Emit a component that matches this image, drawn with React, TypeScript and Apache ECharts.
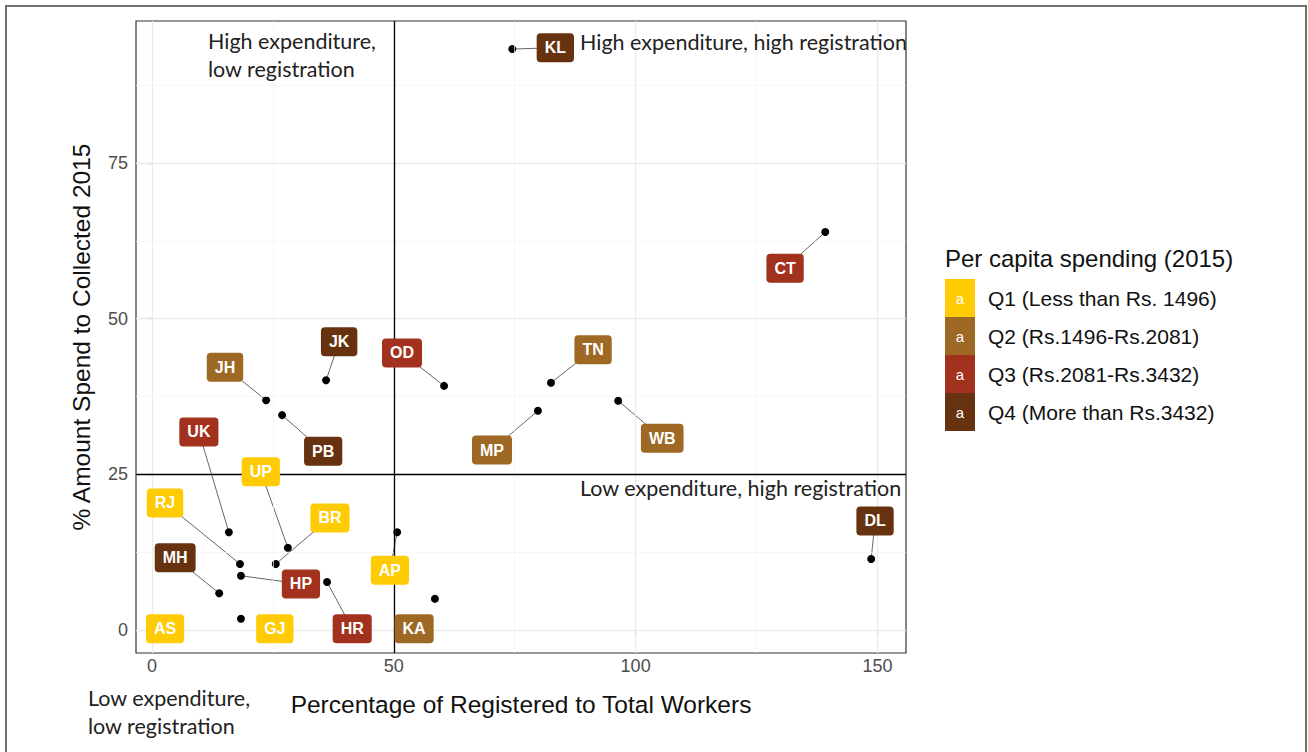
import React, { useEffect, useRef } from "react";
import * as echarts from "echarts";

// ---- data ----
const states = ["KL", "CT", "DL", "TN", "MP", "WB", "OD", "JK", "JH", "PB", "UK", "UP", "RJ", "BR", "MH", "HP", "HR", "AS", "GJ", "AP", "KA"];
const regPct = [74.5, 139.2, 148.7, 82.5, 79.8, 96.4, 60.4, 36.0, 23.6, 26.9, 15.9, 28.1, 18.2, 25.6, 13.9, 18.4, 36.2, 2.5, 18.4, 50.7, 58.5];
const spendPct = [93.3, 63.9, 11.4, 39.7, 35.2, 36.8, 39.2, 40.1, 36.9, 34.5, 15.7, 13.2, 10.6, 10.6, 5.9, 8.7, 7.7, 0.3, 1.8, 15.7, 5.0];
// repelled label positions (data units)
const labelX = [83.4, 130.9, 149.5, 91.2, 70.3, 105.5, 51.7, 38.7, 15.1, 35.4, 9.7, 22.5, 2.7, 36.8, 4.8, 30.8, 41.4, 2.7, 25.4, 49.2, 54.2];
const labelY = [93.5, 58.1, 17.5, 45.0, 28.9, 30.8, 44.5, 46.3, 42.2, 28.7, 31.8, 25.4, 20.4, 18.0, 11.6, 7.4, 0.2, 0.2, 0.2, 9.6, 0.2];
const quartile = [4, 3, 4, 2, 2, 2, 3, 4, 2, 4, 3, 1, 1, 1, 4, 3, 3, 1, 1, 1, 2];
const hasSegment = [true, true, true, true, true, true, true, true, true, true, true, true, true, true, true, true, true, false, false, true, false];

const quartileNames = ["Q1 (Less than Rs. 1496)", "Q2 (Rs.1496-Rs.2081)", "Q3 (Rs.2081-Rs.3432)", "Q4 (More than Rs.3432)"];
const quartileColors = ["#FFCB05", "#9E6825", "#A2311D", "#66320F"];
const legendTitle = "Per capita spending (2015)";

const xTicks = [0, 50, 100, 150];
const yTicks = [0, 25, 50, 75];
const xMinor = [25, 75, 125];
const yMinor = [12.5, 37.5, 62.5, 87.5];
const splitX = 50;
const splitY = 25;

const xTitle = "Percentage of Registered to Total Workers";
const yTitle = "% Amount Spend to Collected 2015";

const SANS = "'Liberation Sans', Arial, Helvetica, sans-serif";
const ANNOT = "Lato, 'Open Sans', sans-serif";

export default function App() {
  const ref = useRef<HTMLDivElement>(null);

  useEffect(() => {
    if (!ref.current) return;
    const chart = echarts.init(ref.current, null, { renderer: "svg" });

    const gridLines = [
      ...xTicks.map((v) => ({ xAxis: v, lineStyle: { color: "#EBEBEB", width: 1.3, type: "solid" } })),
      ...xMinor.map((v) => ({ xAxis: v, lineStyle: { color: "#F3F3F3", width: 0.7, type: "solid" } })),
      ...yTicks.map((v) => ({ yAxis: v, lineStyle: { color: "#EBEBEB", width: 1.3, type: "solid" } })),
      ...yMinor.map((v) => ({ yAxis: v, lineStyle: { color: "#F3F3F3", width: 0.7, type: "solid" } })),
    ];

    const segments = states
      .map((s, i) => ({ i, s }))
      .filter(({ i }) => hasSegment[i])
      .map(({ i }) => ({ coords: [[labelX[i], labelY[i]], [regPct[i], spendPct[i]]] }));

    const labelSeries = quartileColors.map((col, q) => ({
      type: "scatter",
      z: 5,
      symbol: "rect",
      symbolSize: 1,
      itemStyle: { color: "rgba(0,0,0,0)", opacity: 1 },
      silent: true,
      data: states
        .map((s, i) => ({ i, s }))
        .filter(({ i }) => quartile[i] === q + 1)
        .map(({ i, s }) => ({ name: s, value: [labelX[i], labelY[i]] })),
      label: {
        show: true,
        position: "inside",
        formatter: "{b}",
        color: "#ffffff",
        opacity: 1,
        fontWeight: "bold",
        fontSize: 16,
        fontFamily: SANS,
        backgroundColor: col,
        borderRadius: 4,
        padding: [7, 8, 6, 8],
      },
    }));

    const graphics: any[] = [
      {
        type: "rect",
        shape: { x: 6, y: 6, width: 1300, height: 800 },
        style: { fill: "none", stroke: "#707070", lineWidth: 2 },
        silent: true,
        z: 0,
      },
      {
        type: "text",
        x: 208,
        y: 27,
        style: { text: "High expenditure,\nlow registration", fontSize: 21.5, lineHeight: 28, fontFamily: ANNOT, fill: "#222", textVerticalAlign: "top" },
        z: 30,
      },
      {
        type: "text",
        x: 580,
        y: 42,
        style: { text: "High expenditure, high registration", fontSize: 21.5, fontFamily: ANNOT, fill: "#222", textVerticalAlign: "middle" },
        z: 30,
      },
      {
        type: "text",
        x: 580,
        y: 488,
        style: { text: "Low expenditure, high registration", fontSize: 21.5, fontFamily: ANNOT, fill: "#222", textVerticalAlign: "middle" },
        z: 30,
      },
      {
        type: "text",
        x: 88,
        y: 684,
        style: { text: "Low expenditure,\nlow registration", fontSize: 21.5, lineHeight: 28, fontFamily: ANNOT, fill: "#222", textVerticalAlign: "top" },
        z: 30,
      },
      {
        type: "text",
        x: 945,
        y: 258,
        style: { text: legendTitle, fontSize: 24, fontFamily: SANS, fill: "#111", textVerticalAlign: "middle" },
        z: 30,
      },
    ];
    quartileNames.forEach((name, q) => {
      const top = 279 + q * 38;
      graphics.push({
        type: "rect",
        shape: { x: 945, y: top, width: 30, height: 38 },
        style: { fill: quartileColors[q] },
        z: 30,
      });
      graphics.push({
        type: "text",
        x: 960,
        y: top + 19,
        style: { text: "a", fontSize: 15, fontFamily: SANS, fill: "#ffffff", textAlign: "center", textVerticalAlign: "middle" },
        z: 31,
      });
      graphics.push({
        type: "text",
        x: 988,
        y: top + 19,
        style: { text: name, fontSize: 21, fontFamily: SANS, fill: "#111", textVerticalAlign: "middle" },
        z: 31,
      });
    });

    chart.setOption({
      animation: false,
      backgroundColor: "#ffffff",
      grid: {
        left: 136,
        top: 21,
        width: 770,
        height: 632,
        show: true,
        borderColor: "#333333",
        borderWidth: 1.2,
        backgroundColor: "#ffffff",
      },
      xAxis: {
        type: "value",
        min: -3.3,
        max: 155.9,
        name: xTitle,
        nameLocation: "middle",
        nameGap: 39,
        nameTextStyle: { fontSize: 24.5, fontFamily: SANS, color: "#111" },
        axisLine: { show: false },
        axisTick: { show: true, customValues: xTicks, length: 4, lineStyle: { color: "#333", width: 1.2 } },
        axisLabel: { customValues: xTicks, fontSize: 18, fontFamily: SANS, color: "#4D4D4D", margin: 4 },
        splitLine: { show: false },
      },
      yAxis: {
        type: "value",
        min: -3.7,
        max: 97.8,
        name: yTitle,
        nameLocation: "middle",
        nameGap: 42,
        nameTextStyle: { fontSize: 24.5, fontFamily: SANS, color: "#111" },
        axisLine: { show: false },
        axisTick: { show: true, customValues: yTicks, length: 4, lineStyle: { color: "#333", width: 1.2 } },
        axisLabel: { customValues: yTicks, fontSize: 18, fontFamily: SANS, color: "#4D4D4D", margin: 8 },
        splitLine: { show: false },
      },
      series: [
        {
          type: "scatter",
          z: 1,
          data: [],
          silent: true,
          markLine: { silent: true, symbol: ["none", "none"], label: { show: false }, data: gridLines },
        },
        {
          type: "lines",
          coordinateSystem: "cartesian2d",
          z: 2,
          silent: true,
          lineStyle: { color: "#555555", width: 0.9, opacity: 1 },
          data: segments,
        },
        {
          type: "scatter",
          z: 3,
          symbolSize: 8,
          itemStyle: { color: "#000000", opacity: 1 },
          data: regPct.map((x, i) => ({ name: states[i], value: [x, spendPct[i]] })),
        },
        ...labelSeries,
        {
          type: "scatter",
          z: 10,
          data: [],
          silent: true,
          markLine: {
            silent: true,
            symbol: ["none", "none"],
            label: { show: false },
            lineStyle: { color: "#000000", width: 1.3, type: "solid" },
            data: [{ xAxis: splitX }, { yAxis: splitY }],
          },
        },
      ],
      graphic: graphics,
    });

    return () => chart.dispose();
  }, []);

  return <div ref={ref} style={{ position: "absolute", left: 0, top: 0, width: 1308, height: 752 }} />;
}
